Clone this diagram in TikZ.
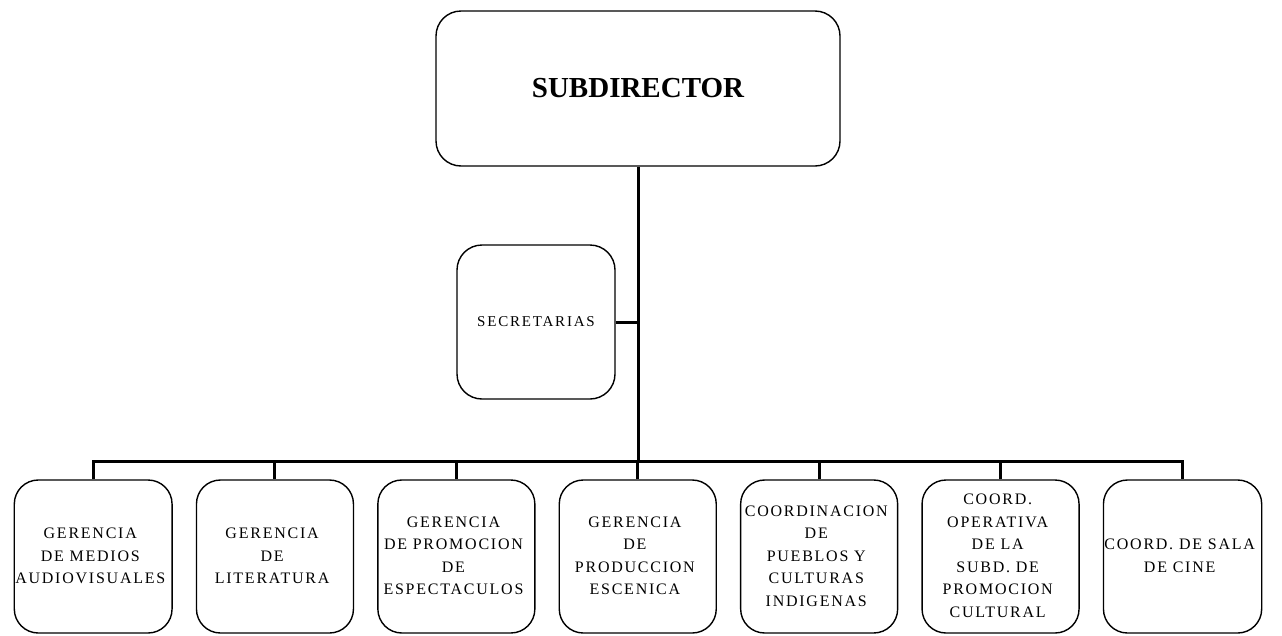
\documentclass[tikz,border=0pt]{standalone}
\usepackage{fontspec}
\setmainfont{Liberation Serif}
\usetikzlibrary{matrix}
\newcommand{\lns}[1]{\begin{tabular}{@{}c@{}}#1\end{tabular}}
\tikzset{
  unit/.style={draw, line width=1.4pt, rounded corners=24pt, align=center, inner sep=1pt,
    font=\fontsize{16}{22.5}\selectfont\addfontfeature{LetterSpace=11}},
  box/.style={unit, minimum width=157pt, minimum height=153pt},
  link/.style={line width=3pt}
}

\begin{document}
\begin{tikzpicture}[x=1pt,y=-1pt]
\useasboundingbox (0,0) rectangle (1282,635);
\node[unit, minimum width=404pt, minimum height=155pt, rounded corners=25pt,
  font=\fontsize{29}{34}\selectfont\bfseries] (sub) at (638,88.5) {SUBDIRECTOR};
\node[unit, minimum width=158pt, minimum height=154pt, rounded corners=25pt,
  font=\fontsize{15}{22.5}\selectfont\addfontfeature{LetterSpace=12}] (sec) at (536,322) {SECRETARIAS};
\matrix (m) [matrix of nodes, column sep=23pt, nodes={box}] at (638,556.5)
{  \lns{GERENCIA\\DE MEDIOS\\AUDIOVISUALES} & \lns{GERENCIA\\DE\\LITERATURA}
 & \lns{GERENCIA\\DE PROMOCION\\DE\\ESPECTACULOS} & \lns{GERENCIA\\DE\\PRODUCCION\\ESCENICA}
 & \lns{COORDINACION\\DE\\PUEBLOS Y\\CULTURAS\\INDIGENAS}
 & \lns{COORD.\\OPERATIVA\\DE LA\\SUBD. DE\\PROMOCION\\CULTURAL}
 & \lns{COORD. DE SALA\\DE CINE} \\
};
% troncal y bus
\coordinate (bus) at (0,461);
\draw[link] (sub.south) -- (sub.south |- bus);
\draw[link] (sec.east) -- (sec.east -| sub.south);
\draw[link] (m-1-1.north) -- (m-1-1.north |- bus) -- (m-1-7.north |- bus) -- (m-1-7.north);
\draw[link] (m-1-2.north) -- (m-1-2.north |- bus);
\draw[link] (m-1-3.north) -- (m-1-3.north |- bus);
\draw[link] (m-1-4.north) -- (m-1-4.north |- bus);
\draw[link] (m-1-5.north) -- (m-1-5.north |- bus);
\draw[link] (m-1-6.north) -- (m-1-6.north |- bus);
\end{tikzpicture}
\end{document}
